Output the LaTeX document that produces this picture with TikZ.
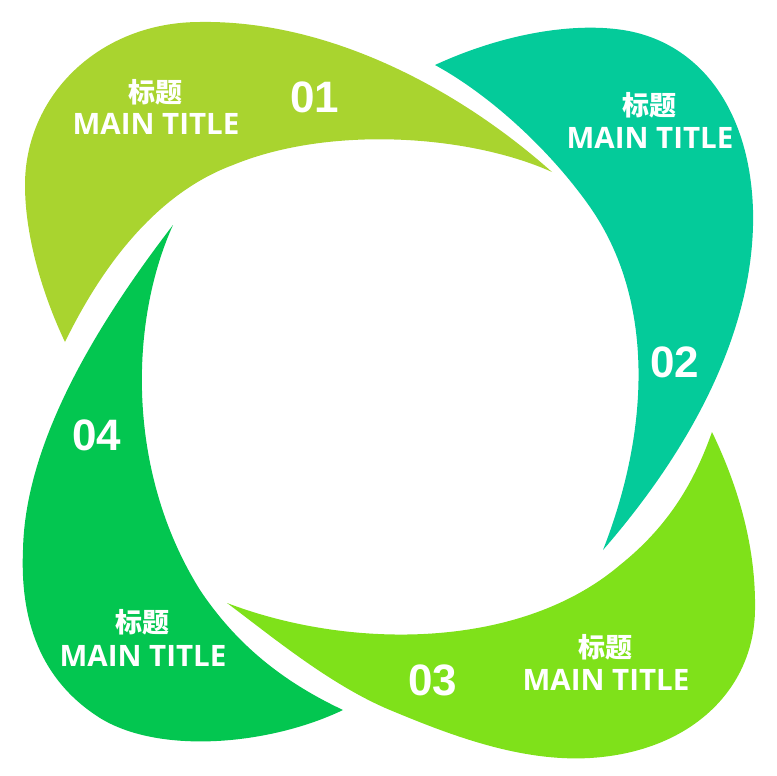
\documentclass[tikz,border=0pt]{standalone}
\usepackage{fontspec}
\setmainfont{Open Sans}
\newfontfamily\cjk{Noto Sans CJK SC}
\newfontfamily\numfont{Liberation Sans}
\definecolor{cA}{HTML}{A9D42F}
\definecolor{cB}{HTML}{04CB9A}
\definecolor{cC}{HTML}{7FE11A}
\definecolor{cD}{HTML}{03C650}
\begin{document}
\begin{tikzpicture}[x=1pt,y=-1pt,
  entitle/.style={text=white,inner sep=0pt,font=\bfseries\fontsize{29.5}{31}\selectfont},
  cntitle/.style={text=white,inner sep=0pt,font=\cjk\bfseries\fontsize{27}{30}\selectfont},
  numlabel/.style={text=white,inner sep=0pt,font=\numfont\bfseries\fontsize{44}{48}\selectfont}]
\useasboundingbox (0,0) rectangle (777,776);
% shape 1
\fill[cA] (65,342) .. controls (45,300) and (25,240) .. (25,185)
  .. controls (25,95) and (100,22) .. (200,22)
  .. controls (330,20) and (460,90) .. (552,172)
  .. controls (470,135) and (330,125) .. (233,165)
  .. controls (160,192) and (105,260) .. (65,342) -- cycle;
% shape 2
\fill[cB] (435,65) .. controls (500,35) and (570,22) .. (623,30)
  .. controls (700,42) and (750,110) .. (753,210)
  .. controls (756,330) and (690,450) .. (603,550)
  .. controls (650,430) and (655,300) .. (590,207)
  .. controls (550,150) and (490,95) .. (435,65) -- cycle;
% shape 3
\fill[cC] (227,603) .. controls (350,650) and (520,650) .. (620,565)
  .. controls (670,525) and (695,480) .. (712,432)
  .. controls (740,490) and (756,550) .. (755,610)
  .. controls (754,690) and (690,752) .. (590,758)
  .. controls (520,762) and (450,735) .. (390,710)
  .. controls (330,685) and (270,635) .. (227,603) -- cycle;
% shape 4
\fill[cD] (173,225) .. controls (130,320) and (125,470) .. (200,590)
  .. controls (240,650) and (290,685) .. (343,710)
  .. controls (270,745) and (160,755) .. (100,718)
  .. controls (40,680) and (20,620) .. (23,550)
  .. controls (25,440) and (100,320) .. (173,225) -- cycle;
% texts
\node[cntitle] (c1) at (155,92) {标题};
\node[entitle] (e1) at (156,124) {MAIN TITLE};
\node[numlabel] (n1) at (315,97) {01};
\node[cntitle] (c2) at (649,105) {标题};
\node[entitle] (e2) at (650,138) {MAIN TITLE};
\node[numlabel] (n2) at (675,362) {02};
\node[cntitle] (c3) at (605,647) {标题};
\node[entitle] (e3) at (606,680) {MAIN TITLE};
\node[numlabel] (n3) at (433,680) {03};
\node[cntitle] (c4) at (142,622) {标题};
\node[entitle] (e4) at (143,656) {MAIN TITLE};
\node[numlabel] (n4) at (97,435) {04};
\end{tikzpicture}
\end{document}
